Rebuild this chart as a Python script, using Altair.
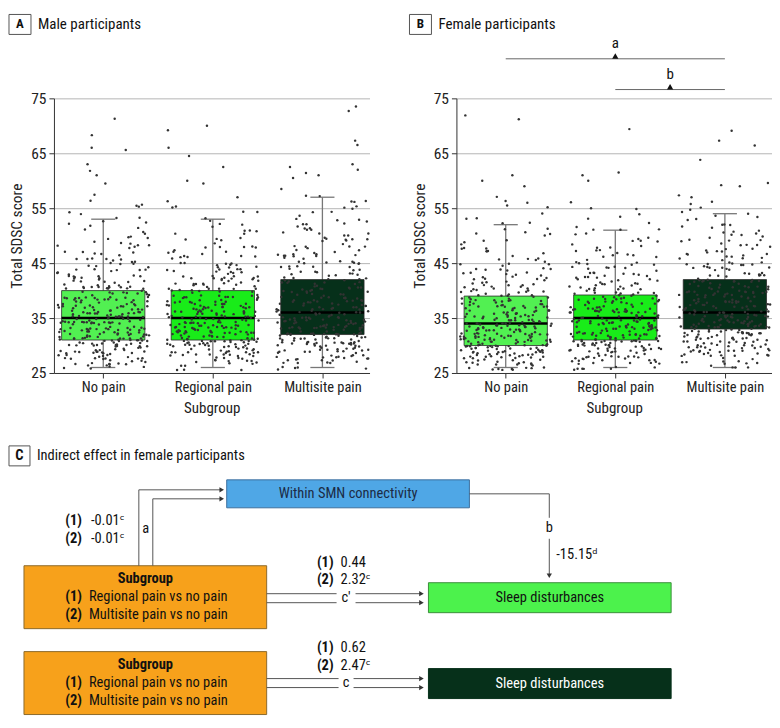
import json
import math
import altair as alt
import pandas as pd

FONT = "Liberation Sans Narrow, Roboto Condensed, DejaVu Sans Condensed, Roboto, sans-serif"

# ---------------- data ----------------
CATS = ["No pain", "Regional pain", "Multisite pain"]
BOX_COLORS = ["#52f052", "#19ec19", "#06301a"]
Y_TICKS = [25, 35, 45, 55, 65, 75]

PANEL_LETTERS = ["A", "B", "C"]
PANEL_TITLES = ["Male participants", "Female participants",
                "Indirect effect in female participants"]
X_TITLE = "Subgroup"
Y_TITLE = "Total SDSC score"

male_q1 = [31, 31, 32]
male_median = [35, 35, 36]
male_q3 = [40, 40, 42]
male_low = [26, 26, 26]
male_high = [53, 53, 57]

female_q1 = [30, 31, 33]
female_median = [34, 35, 36]
female_q3 = [39, 39.2, 42]
female_low = [26, 26, 26]
female_high = [52, 51, 54]

# number of participants at each integer score 26..57 (estimated from the dots)
SCORES = list(range(26, 58))
male_nopain_counts = [6, 10, 14, 16, 18, 20, 20, 20, 19, 18, 17, 16, 15, 14, 12, 11,
                      10, 8, 8, 7, 6, 5, 5, 4, 4, 3, 3, 3, 2, 2, 2, 1]
male_regional_counts = [5, 9, 13, 16, 19, 20, 21, 20, 19, 18, 17, 16, 15, 13, 12, 11,
                        10, 9, 8, 7, 6, 5, 5, 4, 3, 3, 3, 2, 2, 2, 1, 1]
male_multisite_counts = [5, 9, 12, 15, 17, 19, 19, 18, 17, 16, 15, 14, 13, 12, 11, 10,
                         9, 9, 8, 8, 7, 7, 6, 6, 5, 5, 4, 4, 3, 3, 3, 2]
female_nopain_counts = [10, 14, 17, 20, 22, 22, 21, 20, 19, 17, 16, 14, 13, 11, 10, 9,
                        8, 7, 6, 5, 5, 4, 4, 3, 3, 3, 2, 2, 1, 1, 1, 1]
female_regional_counts = [7, 11, 15, 17, 19, 21, 21, 20, 19, 18, 17, 15, 14, 12, 11, 10,
                          9, 8, 7, 6, 5, 5, 4, 4, 3, 3, 2, 2, 1, 1, 1, 0]
female_multisite_counts = [4, 7, 10, 13, 16, 17, 18, 19, 19, 18, 17, 16, 15, 14, 13, 12,
                           11, 10, 9, 8, 7, 7, 6, 5, 5, 4, 4, 3, 3, 2, 2, 1]

male_nopain_outliers = [59.5, 61, 61.8, 63, 65.6, 66, 68.3, 71.3]
male_regional_outliers = [59.5, 60, 62.5, 64.5, 66, 69.2, 70]
male_multisite_outliers = [58.5, 60.5, 61, 61.4, 62, 62.5, 63, 66.5, 67.3, 72.7, 73.5]
female_nopain_outliers = [55.5, 56, 59, 60, 61, 71.2, 71.9]
female_regional_outliers = [55, 60, 61, 61.5, 69.4]
female_multisite_outliers = [57, 59, 59.2, 59.6, 63.8, 66.4, 67.3, 69.1]

SIG_LABELS = ["a", "b"]
SIG_FROM = [0, 1]
SIG_TO = [2, 2]

# panel C text
NODE_TEXTS = ["Within SMN connectivity", "Sleep disturbances", "Sleep disturbances"]
SUBGROUP_TITLE = "Subgroup"
SUBGROUP_LINES = ["Regional pain vs no pain", "Multisite pain vs no pain"]
PATH_LABELS = ["a", "b", "c\u2032", "c"]
A_VALUES = ["-0.01\u1d9c", "-0.01\u1d9c"]
B_VALUE = "-15.15\u1d48"
CPRIME_VALUES = ["0.44", "2.32\u1d9c"]
C_VALUES = ["0.62", "2.47\u1d9c"]


# ---------------- helpers ----------------
def hash01(k, seed):
    """deterministic jitter in [0, 1) (position only)"""
    v = math.sin(k * 12.9898 + seed * 78.233) * 43758.5453
    return v - math.floor(v)


def make_points(counts_list, outliers_list, seed):
    rows = []
    for g, (counts, outs) in enumerate(zip(counts_list, outliers_list)):
        k = 0
        for s, c in zip(SCORES, counts):
            for _ in range(c):
                k += 1
                u = hash01(k, seed + g * 3 + 1)
                w = hash01(k, seed + g * 3 + 2)
                rows.append({"cat": CATS[g], "x": g + (u - 0.5) * 0.84,
                             "y": s + (w - 0.5) * 0.95})
        for v in outs:
            k += 1
            u = hash01(k, seed + g * 3 + 1)
            rows.append({"cat": CATS[g], "x": g + (u - 0.5) * 0.84, "y": v})
    return pd.DataFrame(rows)


def make_stats(q1, med, q3, lo, hi):
    return pd.DataFrame({"cat": CATS, "pos": [0, 1, 2], "q1": q1, "med": med,
                         "q3": q3, "low": lo, "high": hi})


XS = alt.Scale(domain=[-0.45, 2.43], nice=False, zero=False)
YS = alt.Scale(domain=[25, 75], nice=False, zero=False)
LABEL_EXPR = json.dumps(CATS) + "[datum.value]"
XAXIS = alt.Axis(values=[0, 1, 2], labelExpr=LABEL_EXPR, title=X_TITLE, grid=False,
                 tickSize=5, labelPadding=3, titlePadding=6, labelFontSize=14.5,
                 titleFontSize=15, titleFontWeight="normal", domainColor="#333",
                 tickColor="#333", labelColor="#222", titleColor="#222",
                 labelFlush=False)
YAXIS = alt.Axis(values=Y_TICKS, title=Y_TITLE, grid=True, gridColor="#b5b5b5",
                 tickSize=5, labelPadding=3, titlePadding=6, labelFontSize=15.5,
                 titleFontSize=15.5, titleFontWeight="normal", domainColor="#333",
                 tickColor="#333", labelColor="#222", titleColor="#222")


def X(f):
    return alt.X(f"{f}:Q", scale=XS, axis=XAXIS)


def Y(f):
    return alt.Y(f"{f}:Q", scale=YS, axis=YAXIS)


HW = 0.38   # box half width (x units)
CW = 0.11   # whisker cap half width


def box_panel(stats, pts, letter, title, hx0, hx1, sig=None):
    sb = alt.Chart(stats)
    whisker = sb.mark_rule(color="#777", strokeWidth=1.3).transform_calculate(
        x="datum.pos", y="datum.low", y2="datum.high"
    ).encode(x=X("x"), y=Y("y"), y2=alt.Y2("y2"))
    caps = sb.transform_fold(["low", "high"], as_=["k", "v"]).transform_calculate(
        x=f"datum.pos - {CW}", x2=f"datum.pos + {CW}", y="datum.v"
    ).mark_rule(color="#777", strokeWidth=1.3).encode(x=X("x"), x2=alt.X2("x2"), y=Y("y"))
    box = sb.transform_calculate(
        x=f"datum.pos - {HW}", x2=f"datum.pos + {HW}", y="datum.q1", y2="datum.q3"
    ).mark_rect(stroke="#2b2b2b", strokeWidth=0.8).encode(
        x=X("x"), x2=alt.X2("x2"), y=Y("y"), y2=alt.Y2("y2"),
        fill=alt.Fill("cat:N", scale=alt.Scale(domain=CATS, range=BOX_COLORS), legend=None))
    median = sb.transform_calculate(
        x=f"datum.pos - {HW}", x2=f"datum.pos + {HW}", y="datum.med"
    ).mark_rule(color="#000", strokeWidth=2.5).encode(x=X("x"), x2=alt.X2("x2"), y=Y("y"))
    dots = alt.Chart(pts).mark_circle(size=6, color="#333", opacity=1).encode(
        x=X("x"), y=Y("y"))

    hd = alt.Chart(pd.DataFrame({"t": [letter], "title": [title]}))
    hbox = hd.mark_rect(fill="white", stroke="#555", strokeWidth=1).encode(
        x=alt.value(hx0), x2=alt.value(hx1), y=alt.value(-84), y2=alt.value(-64))
    hletter = hd.mark_text(fontWeight="bold", fontSize=13, align="center",
                           baseline="middle", color="#111").encode(
        x=alt.value((hx0 + hx1) / 2), y=alt.value(-74), text="t:N")
    htitle = hd.mark_text(fontSize=15, align="left", baseline="middle",
                          color="#111").encode(
        x=alt.value(hx1 + 7), y=alt.value(-74), text="title:N")

    layers = [whisker, caps, box, median, dots, hbox, hletter, htitle]
    if sig is not None:
        sd = alt.Chart(sig)
        layers.append(sd.mark_rule(color="#666", strokeWidth=1).encode(
            x=X("x1"), x2=alt.X2("x2"), y=Y("yl")))
        layers.append(sd.transform_calculate(yt="datum.yl + 0.5").mark_point(
            shape="triangle-up", filled=True, size=40, color="#111", opacity=1).encode(
            x=X("xm"), y=Y("yt")))
        layers.append(sd.transform_calculate(ytx="datum.yl + 2.0").mark_text(
            fontSize=15, align="center", baseline="alphabetic", color="#111").encode(
            x=X("xm"), y=Y("ytx"), text="lab:N"))
    return alt.layer(*layers).properties(width=316, height=275)


male_pts = make_points(
    [male_nopain_counts, male_regional_counts, male_multisite_counts],
    [male_nopain_outliers, male_regional_outliers, male_multisite_outliers], 1)
female_pts = make_points(
    [female_nopain_counts, female_regional_counts, female_multisite_counts],
    [female_nopain_outliers, female_regional_outliers, female_multisite_outliers], 20)

male_stats = make_stats(male_q1, male_median, male_q3, male_low, male_high)
female_stats = make_stats(female_q1, female_median, female_q3, female_low, female_high)

sig_df = pd.DataFrame({
    "lab": SIG_LABELS, "x1": SIG_FROM, "x2": SIG_TO,
    "xm": [(a + b) / 2 for a, b in zip(SIG_FROM, SIG_TO)],
    "yl": [82.2, 76.6],
})

panelA = box_panel(male_stats, male_pts, PANEL_LETTERS[0], PANEL_TITLES[0], -45, -23)
panelB = box_panel(female_stats, female_pts, PANEL_LETTERS[1], PANEL_TITLES[1], -47, -25,
                   sig=sig_df)

# ---------------- panel C: path diagram (coordinates in figure pixels) ----------------
CX = alt.Scale(domain=[53, 772], nice=False, zero=False)
CY = alt.Scale(domain=[440, 720], nice=False, zero=False, reverse=True)


def cx(f):
    return alt.X(f"{f}:Q", scale=CX, axis=None)


def cy(f):
    return alt.Y(f"{f}:Q", scale=CY, axis=None)


nodes = pd.DataFrame([
    {"x1": 8, "x2": 29, "y1": 445, "y2": 465, "fill": "#ffffff", "stroke": "#555555"},
    {"x1": 226, "x2": 469, "y1": 479, "y2": 507, "fill": "#4fa7e6", "stroke": "#3d6f9e"},
    {"x1": 23, "x2": 266, "y1": 565, "y2": 628, "fill": "#f7a11b", "stroke": "#8d6a2c"},
    {"x1": 23, "x2": 266, "y1": 651, "y2": 714, "fill": "#f7a11b", "stroke": "#8d6a2c"},
    {"x1": 428, "x2": 671, "y1": 582, "y2": 612, "fill": "#4cf24c", "stroke": "#3b8f3b"},
    {"x1": 428, "x2": 671, "y1": 668, "y2": 698, "fill": "#06301a", "stroke": "#06301a"},
])

texts = pd.DataFrame([
    (PANEL_LETTERS[2], 18.5, 455, "cb", "#111"),
    (PANEL_TITLES[2], 36, 455, "ln", "#111"),
    (NODE_TEXTS[0], 347.5, 493, "cn", "#1c2b45"),
    (NODE_TEXTS[1], 549.5, 597, "cn", "#111"),
    (NODE_TEXTS[2], 549.5, 683, "cn", "#ffffff"),
    (SUBGROUP_TITLE, 144.5, 578, "cb", "#111"),
    ("(1)", 81, 596.5, "rb", "#111"), (SUBGROUP_LINES[0], 88, 596.5, "ln", "#111"),
    ("(2)", 81, 614, "rb", "#111"), (SUBGROUP_LINES[1], 88, 614, "ln", "#111"),
    (SUBGROUP_TITLE, 144.5, 664.5, "cb", "#111"),
    ("(1)", 81, 682.5, "rb", "#111"), (SUBGROUP_LINES[0], 88, 682.5, "ln", "#111"),
    ("(2)", 81, 700, "rb", "#111"), (SUBGROUP_LINES[1], 88, 700, "ln", "#111"),
    ("(1)", 81, 520, "rb", "#111"), (A_VALUES[0], 90, 520, "ln", "#111"),
    ("(2)", 81, 538, "rb", "#111"), (A_VALUES[1], 90, 538, "ln", "#111"),
    (PATH_LABELS[0], 145, 528, "cn", "#111"),
    (PATH_LABELS[1], 549, 527, "cn", "#111"),
    (B_VALUE, 556, 554, "ln", "#111"),
    ("(1)", 333, 562, "rb", "#111"), (CPRIME_VALUES[0], 340, 562, "ln", "#111"),
    ("(2)", 333, 579, "rb", "#111"), (CPRIME_VALUES[1], 340, 579, "ln", "#111"),
    (PATH_LABELS[2], 345.5, 597, "cn", "#111"),
    ("(1)", 333, 647, "rb", "#111"), (C_VALUES[0], 340, 647, "ln", "#111"),
    ("(2)", 333, 665, "rb", "#111"), (C_VALUES[1], 340, 665, "ln", "#111"),
    (PATH_LABELS[3], 345.5, 682, "cn", "#111"),
], columns=["t", "x", "y", "style", "color"])

segments = pd.DataFrame([
    (138, 565, 138, 489), (138, 489, 221, 489),
    (152, 565, 152, 498), (152, 498, 221, 498),
    (469, 493, 549, 493), (549, 493, 549, 517), (549, 538, 549, 574),
    (266, 593, 336, 593), (355, 593, 420, 593),
    (266, 602, 336, 602), (355, 602, 420, 602),
    (266, 678, 338, 678), (353, 678, 420, 678),
    (266, 687, 338, 687), (353, 687, 420, 687),
], columns=["x1", "y1", "x2", "y2"])

heads = pd.DataFrame([
    (221, 489, "triangle-right"), (221, 498, "triangle-right"),
    (549, 575, "triangle-down"),
    (421, 593, "triangle-right"), (421, 602, "triangle-right"),
    (421, 678, "triangle-right"), (421, 687, "triangle-right"),
], columns=["x", "y", "shape"])

c_rects = alt.Chart(nodes).mark_rect(strokeWidth=1).encode(
    x=cx("x1"), x2=alt.X2("x2"), y=cy("y1"), y2=alt.Y2("y2"),
    fill=alt.Fill("fill:N", scale=None), stroke=alt.Stroke("stroke:N", scale=None))
c_segs = alt.Chart(segments).mark_rule(color="#555", strokeWidth=1).encode(
    x=cx("x1"), x2=alt.X2("x2"), y=cy("y1"), y2=alt.Y2("y2"))
c_heads = alt.Chart(heads).mark_point(filled=True, size=28, color="#333", opacity=1).encode(
    x=cx("x"), y=cy("y"), shape=alt.Shape("shape:N", scale=None))

text_layers = []
for style, align, weight in [("cn", "center", "normal"), ("cb", "center", "bold"),
                             ("ln", "left", "normal"), ("rb", "right", "bold")]:
    sub = texts[texts["style"] == style]
    text_layers.append(alt.Chart(sub).mark_text(
        align=align, baseline="middle", fontWeight=weight, fontSize=14.5).encode(
        x=cx("x"), y=cy("y"), text="t:N", color=alt.Color("color:N", scale=None)))

panelC = alt.layer(c_rects, c_segs, c_heads, *text_layers).properties(width=719, height=280)

# flush layout: the nested row counts as zero height, so the spacing includes the
# 275 px plot height of the top row
top = alt.hconcat(panelA, panelB, spacing=87, bounds="flush")
chart = alt.vconcat(top, panelC, spacing=343, bounds="flush").properties(
    padding={"left": 0, "top": 5, "right": 0, "bottom": 0}
).configure(font=FONT).configure_view(strokeWidth=0)

chart.save("out.html", embed_options={"renderer": "svg", "actions": False})
